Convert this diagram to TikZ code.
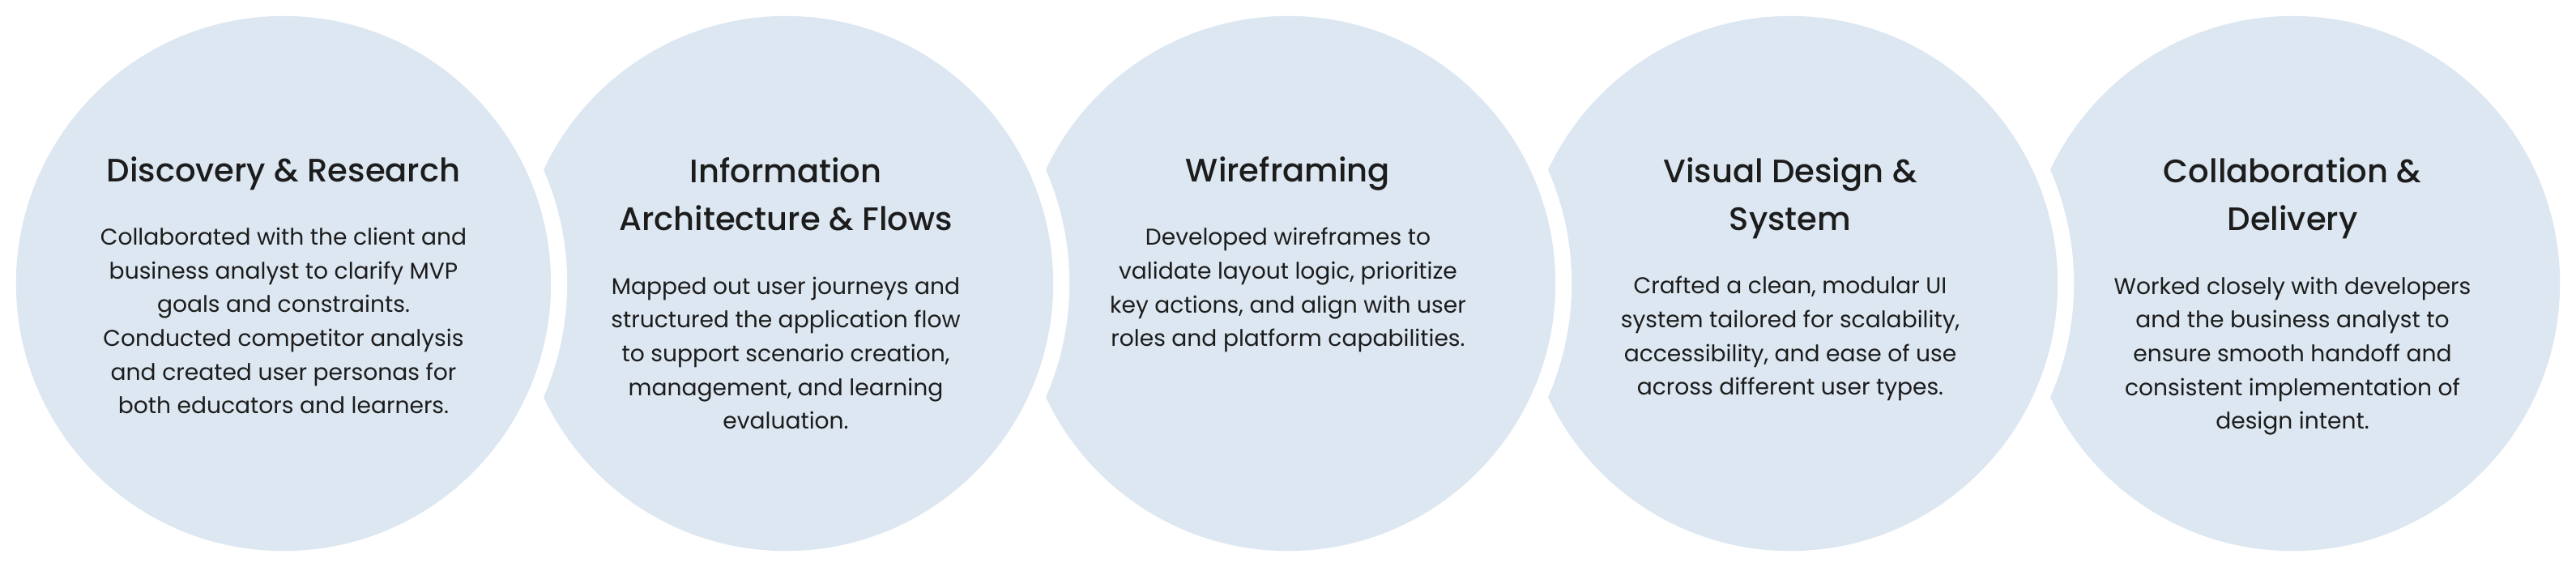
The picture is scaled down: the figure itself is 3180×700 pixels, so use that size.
\documentclass[tikz,border=0pt]{standalone}
\usepackage{fontspec}
\setmainfont{Poppins}
\newfontfamily\titlefont{Poppins}[UprightFont={* Medium}]
\usetikzlibrary{calc}
\definecolor{stagebg}{RGB}{220,231,241}
\definecolor{ink}{RGB}{28,28,28}

\begin{document}
\begin{tikzpicture}[x=0.01cm, y=0.01cm,
    gap/.style={circle, fill=white, minimum size=7cm, inner sep=0pt},
    disc/.style={circle, fill=stagebg, minimum size=6.6cm, inner sep=0pt},
    ttl/.style={anchor=base, align=center, inner sep=0pt, text=ink, font=\titlefont\fontsize{11.4}{17}\selectfont},
    txt/.style={anchor=base, align=center, inner sep=0pt, text=ink, font=\fontsize{8.0}{11.85}\selectfont}]
  \useasboundingbox (0,0) rectangle (3180,700);
  % discs drawn right to left, so each one bites into its right neighbour
  \foreach \k in {4,3,2,1,0} {
    \node[gap]  (ring\k) at (350+620*\k,350) {};
    \node[disc] (disc\k) at (350+620*\k,350) {};
  }
  % base anchor = last line of each text
  % ---------------- stage 1 ----------------
  \node[ttl] (t0) at ($(disc0.center)+(0,125)$) {Discovery \& Research};
  \node[txt] (b0) at ($(disc0.center)+(0,-161)$) {Collaborated with the client and\\business analyst to clarify MVP\\goals and constraints.\\Conducted competitor analysis\\and created user personas for\\both educators and learners.};
  % ---------------- stage 2 ----------------
  \node[ttl] (t1) at ($(disc1.center)+(0,65)$) {Information\\Architecture \& Flows};
  \node[txt] (b1) at ($(disc1.center)+(0,-180)$) {Mapped out user journeys and\\structured the application flow\\to support scenario creation,\\management, and learning\\evaluation.};
  % ---------------- stage 3 ----------------
  \node[ttl] (t2) at ($(disc2.center)+(0,125)$) {Wireframing};
  \node[txt] (b2) at ($(disc2.center)+(0,-78)$) {Developed wireframes to\\validate layout logic, prioritize\\key actions, and align with user\\roles and platform capabilities.};
  % ---------------- stage 4 ----------------
  \node[ttl] (t3) at ($(disc3.center)+(0,65)$) {Visual Design \&\\System};
  \node[txt] (b3) at ($(disc3.center)+(0,-138)$) {Crafted a clean, modular UI\\system tailored for scalability,\\accessibility, and ease of use\\across different user types.};
  % ---------------- stage 5 ----------------
  \node[ttl] (t4) at ($(disc4.center)+(0,65)$) {Collaboration \&\\Delivery};
  \node[txt] (b4) at ($(disc4.center)+(0,-180)$) {Worked closely with developers\\and the business analyst to\\ensure smooth handoff and\\consistent implementation of\\design intent.};
\end{tikzpicture}
\end{document}
